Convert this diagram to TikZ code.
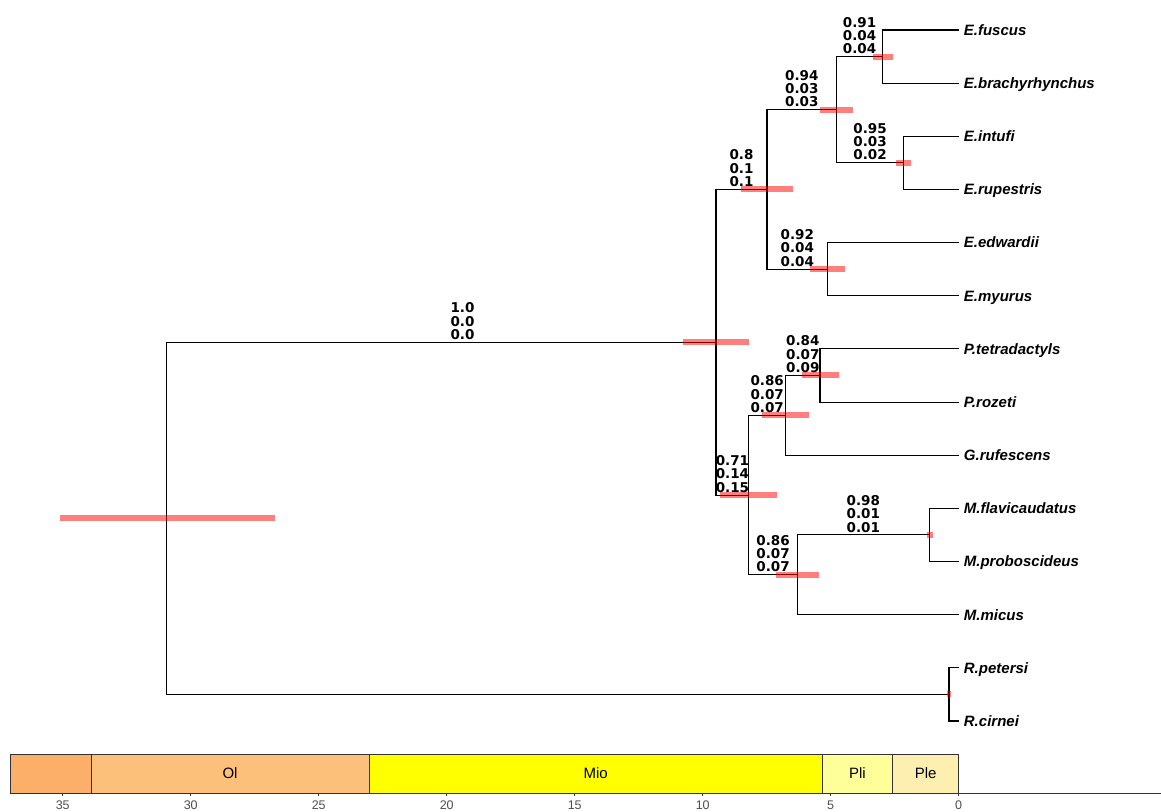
\documentclass[tikz,border=0pt]{standalone}
\usepackage{fontspec}
\usetikzlibrary{calc}
\newfontfamily\tipfont{Liberation Sans}
\newfontfamily\probfont{DejaVu Sans}
\definecolor{frame}{HTML}{333333}
\definecolor{ticktext}{HTML}{4D4D4D}
\definecolor{eocene}{HTML}{FBAF68}
\definecolor{oligocene}{HTML}{FDC07A}
\definecolor{miocene}{HTML}{FFFF00}
\definecolor{pliocene}{HTML}{FFFF99}
\definecolor{pleistocene}{HTML}{FCEFB0}

\begin{document}
\begin{tikzpicture}[x=25.6pt, y=-53.15pt,
    branch/.style={black, line width=1.1pt},
    hpd/.style={red, opacity=0.5, line width=6pt},
    prob/.style={anchor=south, inner sep=0pt, yshift=2.5pt, align=center,
      font=\probfont\bfseries\fontsize{13.5}{13.3}\selectfont},
    tip/.style={anchor=base west, inner sep=0pt, xshift=5pt, yshift=-5.4pt,
      font=\tipfont\bfseries\itshape\fontsize{15}{18}\selectfont},
    epoch/.style={draw=frame, line width=0.6pt},
    ticklab/.style={anchor=north, inner sep=0pt, text=ticktext,
      font=\tipfont\fontsize{12.5}{15}\selectfont}]
  \useasboundingbox (-37.45,-0.5644) rectangle (7.902,14.713);
  % internal nodes: x is age in Ma (negative), y counts tips from the top
  \coordinate (E1) at (-2.98,0.5);
  \coordinate (E2) at (-2.16,2.5);
  \coordinate (C) at (-4.77,1.5);
  \coordinate (D) at (-5.12,4.5);
  \coordinate (B) at (-7.49,3);
  \coordinate (P) at (-5.42,6.5);
  \coordinate (G) at (-6.76,7.25);
  \coordinate (M) at (-1.15,9.5);
  \coordinate (H) at (-6.30,10.25);
  \coordinate (F) at (-8.20,8.75);
  \coordinate (A) at (-9.48,5.875);
  \coordinate (Rn) at (-0.38,12.5);
  \coordinate (root) at (-30.93,9.1875);
  \foreach \i/\sp in {0/E.fuscus, 1/E.brachyrhynchus, 2/E.intufi, 3/E.rupestris,
      4/E.edwardii, 5/E.myurus, 6/P.tetradactyls, 7/P.rozeti, 8/G.rufescens,
      9/M.flavicaudatus, 10/M.proboscideus, 11/M.micus, 12/R.petersi, 13/R.cirnei} {
    \coordinate (t\i) at (0,\i);
    \node[tip] (name\i) at (t\i) {\sp};
  }
  \foreach \p/\c in {root/A, root/Rn, A/B, A/F, B/C, B/D, C/E1, C/E2, D/t4, D/t5,
      E1/t0, E1/t1, E2/t2, E2/t3, F/G, F/H, G/P, G/t8, P/t6, P/t7, H/M, H/t11,
      M/t9, M/t10, Rn/t12, Rn/t13}
    \draw[branch] (\p) |- (\c);
  % 95% HPD of the node ages
  \foreach \n/\o/\y in {root/35.1/26.7, A/10.77/8.19, B/8.50/6.47, C/5.42/4.14,
      E1/3.36/2.58, E2/2.45/1.875, D/5.81/4.43, F/9.33/7.11, G/7.67/5.85,
      P/6.13/4.69, H/7.14/5.45, M/1.25/0.99, Rn/0.46/0.30}
    \draw[hpd] (-\o,0 |- \n) -- (-\y,0 |- \n);
  \node[prob, xshift=21pt] (sA) at ($(root |- A)!0.5!(A)$) {1.0\\0.0\\0.0};
  \foreach \p/\c/\a/\b/\d in {A/B/0.8/0.1/0.1, B/C/0.94/0.03/0.03, C/E1/0.91/0.04/0.04,
      C/E2/0.95/0.03/0.02, B/D/0.92/0.04/0.04, A/F/0.71/0.14/0.15, F/G/0.86/0.07/0.07,
      G/P/0.84/0.07/0.09, F/H/0.86/0.07/0.07, H/M/0.98/0.01/0.01}
    \node[prob] (s\c) at ($(\p |- \c)!0.5!(\c)$) {\a\\\b\\\d};
  % time scale
  \begin{scope}[shift={(0,14.355)}, y=1pt]
    \foreach \a/\b/\col/\lab [count=\k] in {37.06/33.9/eocene/{}, 33.9/23.03/oligocene/Ol,
        23.03/5.333/miocene/Mio, 5.333/2.58/pliocene/Pli, 2.58/0/pleistocene/Ple} {
      \draw[epoch, fill=\col] (-\a,0) rectangle (-\b,39);
      \node[font=\tipfont\fontsize{15}{18}\selectfont] (epoch\k) at ($(-\a,0)!0.5!(-\b,39)$) {\lab};
    }
    \draw[frame, line width=0.8pt] (-37.06,0) -- (7.902,0);
    \foreach \t in {0,5,...,35} {
      \draw[frame, line width=0.6pt] (-\t,0) -- (-\t,-3);
      \node[ticklab] (tick\t) at (-\t,-8) {\t};
    }
  \end{scope}
\end{tikzpicture}
\end{document}
